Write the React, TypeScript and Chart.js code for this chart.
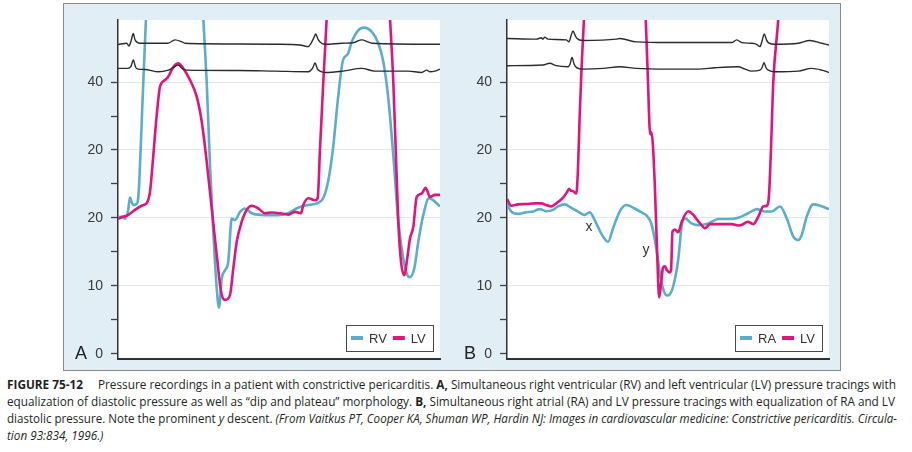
import React, { useEffect, useLayoutEffect, useRef } from 'react';
import { Chart, registerables } from 'chart.js';

Chart.register(...registerables);

// ---------- axis ----------
const yTickValues = [0, 5, 10, 15, 20, 25, 30, 35, 40];
const yLabelValues = [0, 10, 20, 30, 40];
const yLabelTexts = ['0', '10', '20', '20', '40'];
const yMin = -0.74;
const yMax = 49.12;
const timeMax = 322;

// ---------- panel A: RV / LV (time, mmHg) ----------
const rvA: [number, number][] = [[0,20.1],[4,20.2],[7,19.9],[10,21.0],[12,23.0],[14,22.2],[15.5,21.9],[18,22.0],[19.7,22.4],[21,24.5],[22,27.8],[25.3,40],[28,49.4],[31,60],[55,70],[82,60],[85.3,49.4],[88.7,40],[92,27.8],[95.3,18],[98.7,9.7],[101,6.8],[103.7,11.1],[107,12.3],[110.3,13.6],[113.7,19.9],[117,19.7],[122,20.9],[127,21.4],[133.7,20.7],[143.7,20.45],[160,20.4],[170,20.7],[180,21.5],[190,21.9],[203.7,22.6],[210,25.3],[215,30.2],[220,37.6],[225,43.2],[229.7,44.1],[233.7,45.9],[240.3,47.6],[246.3,48.0],[253.7,47.4],[260.3,45.7],[265.3,43.0],[270.3,37.6],[275.3,29.2],[280.3,19.45],[285.3,14.0],[288.7,11.8],[292,11.3],[296.3,12.6],[300.3,16.5],[305.3,20.45],[311,22.9],[315.3,22.6],[322,21.7]];
const lvA: [number, number][] = [[0,19.9],[3.7,20.1],[10.3,20.45],[17,21.2],[23.7,21.8],[28.7,22.2],[32,23.85],[35.3,29.2],[38.7,35.1],[42,39.3],[47,40.3],[50.3,40.8],[53.7,41.8],[57,42.5],[60.3,42.75],[65.3,42.0],[72,40.3],[78.7,37.85],[83.7,34.2],[88.7,28.3],[93.7,21.4],[98.7,14.6],[103,9.2],[107,7.95],[112,8.7],[115.3,12.6],[118.7,16.5],[123.7,19.45],[128.7,21.2],[133.7,21.8],[140.3,21.4],[147,20.7],[153.7,20.8],[162,20.7],[170.3,20.5],[177,20.9],[183,20.7],[185.3,21.9],[190.3,22.9],[197,22.6],[199.7,22.95],[202,30.2],[205.3,40],[208.7,49.4],[212,60],[240,75],[268,60],[272,49.4],[275.3,40],[277.7,30.2],[280.3,19.5],[283,13.6],[286.3,11.6],[289.7,14.6],[292,17.0],[295.3,18.7],[298.7,23.1],[303.7,23.6],[307.7,24.45],[312,23.1],[317,23.4],[322,23.4]];
const ecgTopA: [number, number][] = [[0,45.5],[8.7,45.7],[11,45.3],[13,46.0],[15.3,47.15],[17,46.2],[18.7,45.9],[22,45.7],[50,45.7],[57,46.2],[64,45.9],[67,45.7],[120,45.6],[157,45.55],[182,45.45],[190.3,45.2],[193,45.7],[195.5,46.4],[197.7,47.05],[200,46.3],[202,45.9],[207,45.55],[223.7,45.7],[236,45.8],[243.7,46.2],[250,45.9],[253.7,45.7],[322,45.55]];
const ecgBottomA: [number, number][] = [[0,42.0],[9.7,42.0],[13,42.3],[15.3,43.25],[17.5,42.2],[20,41.9],[27,41.85],[40.3,41.5],[50.3,41.75],[55,42.1],[60.3,42.5],[64,42.0],[68.7,41.75],[120,41.7],[157,41.6],[190.3,41.5],[194.5,42.0],[197,42.8],[199.5,41.9],[202,41.6],[207,41.4],[225,41.6],[243.7,42.0],[257,41.6],[290,41.6],[303.7,41.4],[308.7,41.75],[312,41.5],[317,41.6],[322,41.9]];

// ---------- panel B: RA / LV ----------
const raB: [number, number][] = [[0,22.15],[4.3,20.95],[11,20.6],[19.3,20.85],[26,20.95],[32.7,21.3],[39.3,21.0],[46,21.2],[51,21.7],[57.7,22.0],[64.3,21.5],[71,20.95],[77.7,20.45],[82.7,20.85],[87.7,19.7],[94.3,17.7],[101,16.5],[106,18.45],[112.7,20.95],[119.3,21.9],[127.7,21.4],[136,20.7],[140,20.3],[144,19.3],[147,17.5],[150,14.8],[153,11.8],[156,9.6],[160,8.6],[163,8.8],[166.3,10.0],[171.3,14.0],[174.7,18.9],[178,19.95],[184.7,19.2],[191.3,18.95],[201.3,19.2],[211.3,19.85],[221.3,19.85],[231.3,20.05],[241.3,20.7],[249.7,21.3],[258,20.95],[264.7,20.95],[273,21.7],[279.7,19.95],[286.3,17.25],[291.3,16.75],[294.7,17.5],[299.7,20.2],[306.3,22.0],[313,21.8],[322,21.3]];
const lvB: [number, number][] = [[0,22.8],[4.3,21.8],[11,22.0],[19.3,22.05],[27.7,22.15],[34.3,22.15],[39.3,21.9],[44.3,21.7],[49.3,22.15],[56,23.0],[60,23.8],[62,24.3],[64,24.0],[66,23.95],[69.3,23.6],[71,27.3],[72.7,35.1],[74.7,42.5],[77,49.4],[80,60],[108,75],[136,60],[138.7,49.4],[141,40.05],[142.5,33.5],[143.2,32.3],[144.5,32.6],[147.7,25.3],[150,15.5],[152.2,8.3],[154.5,11.0],[156,12.7],[158,12.9],[160,12.3],[162.5,12.0],[164,12.3],[165.5,18.0],[168,18.3],[171.3,17.9],[174.7,19.45],[181.3,21.0],[186.3,20.45],[193,19.2],[198,18.5],[203,19.1],[213,19.1],[224.7,19.1],[231.3,18.9],[235,19.0],[240.7,19.45],[246.3,19.1],[251.3,20.2],[256.3,21.7],[259.7,21.8],[262,23.4],[264,30.2],[266.3,40.05],[271.3,49.4],[275,60],[322,75]];
const ecgTopB: [number, number][] = [[0,46.4],[29.3,46.3],[34.3,46.5],[36,46.3],[37.7,46.6],[41,46.3],[59.3,46.2],[62,45.9],[64,46.8],[66,47.5],[68,46.9],[70,46.4],[76,46.1],[109.3,46.3],[112.7,46.4],[129.3,45.9],[161,45.8],[224.7,45.8],[229.7,46.2],[234.7,45.8],[244.7,45.7],[249.7,45.55],[253,45.2],[255,46.0],[257.3,47.05],[259.5,46.2],[261.3,45.8],[268,45.55],[291.3,45.7],[303,46.1],[314.7,45.7],[322,45.45]];
const ecgBottomB: [number, number][] = [[0,42.4],[36,42.5],[42.7,42.75],[49.3,42.4],[61,42.25],[63,42.6],[65,43.6],[67,42.7],[68.7,42.25],[76,41.9],[96,42.0],[112.7,42.25],[129.3,42.0],[161,41.9],[191.3,41.9],[208,42.1],[231.3,42.25],[238,41.9],[244.7,41.6],[253,41.75],[255,42.1],[257,42.85],[259,42.1],[261.3,41.75],[268,41.5],[291.3,41.6],[304.7,42.0],[314.7,41.75],[322,41.4]];

const notesB = [{ text: 'x', t: 82, v: 18.6 }, { text: 'y', t: 139, v: 15.3 }];

const BLUE = '#5badcc';
const MAGENTA = '#e3137c';
const ECG = '#2b2b2b';
const FONT = '"Liberation Sans", Arial, sans-serif';

const plotBg = {
  id: 'plotBg',
  beforeDraw(chart: any) {
    const { ctx, chartArea: a } = chart;
    ctx.save();
    ctx.fillStyle = '#ffffff';
    ctx.fillRect(a.left, a.top, a.right - a.left, a.bottom - a.top);
    ctx.restore();
  },
};

const boxLegend = {
  id: 'boxLegend',
  afterDraw(chart: any) {
    const { ctx, chartArea: a } = chart;
    const items = chart.data.datasets
      .filter((d: any) => d.legendRank !== undefined)
      .sort((p: any, q: any) => p.legendRank - q.legendRank);
    ctx.save();
    ctx.font = `13px ${FONT}`;
    const padL = 5, sw = 12, gap = 6, itemGap = 6, padR = 7, h = 26;
    let w = padL + padR;
    items.forEach((d: any, i: number) => {
      w += sw + gap + ctx.measureText(d.label).width + (i > 0 ? itemGap : 0);
    });
    const x0 = Math.round(a.right - 7 - w);
    const y0 = Math.round(a.bottom - 8 - h);
    ctx.fillStyle = '#ffffff';
    ctx.fillRect(x0, y0, w, h);
    ctx.strokeStyle = '#4a4a4a';
    ctx.lineWidth = 1;
    ctx.strokeRect(x0 + 0.5, y0 + 0.5, Math.round(w), h);
    let x = x0 + padL;
    const cy = y0 + h / 2;
    items.forEach((d: any, i: number) => {
      if (i > 0) x += itemGap;
      ctx.strokeStyle = d.borderColor;
      ctx.lineWidth = 4;
      ctx.beginPath();
      ctx.moveTo(x, cy);
      ctx.lineTo(x + sw, cy);
      ctx.stroke();
      x += sw + gap;
      ctx.fillStyle = '#333333';
      ctx.textBaseline = 'middle';
      ctx.textAlign = 'left';
      ctx.fillText(d.label, x, cy + 1);
      x += ctx.measureText(d.label).width;
    });
    ctx.restore();
  },
};

const notesPlugin = {
  id: 'notes',
  afterDatasetsDraw(chart: any, _args: any, opts: any) {
    const notes = (opts && opts.items) || [];
    const { ctx, scales } = chart;
    ctx.save();
    ctx.font = `14px ${FONT}`;
    ctx.fillStyle = '#333333';
    ctx.textAlign = 'center';
    ctx.textBaseline = 'middle';
    notes.forEach((n: any) => {
      ctx.fillText(n.text, scales.x.getPixelForValue(n.t), scales.y.getPixelForValue(n.v));
    });
    ctx.restore();
  },
};

const toXY = (arr: [number, number][]) => arr.map(([x, y]) => ({ x, y }));

function lineDs(label: string, arr: [number, number][], color: string, width: number, rank?: number) {
  return {
    label,
    data: toXY(arr),
    borderColor: color,
    backgroundColor: color,
    borderWidth: width,
    pointRadius: 0,
    fill: false,
    cubicInterpolationMode: 'monotone',
    clip: 0,
    legendRank: rank,
  } as any;
}

function PanelChart(props: {
  left: number;
  ventricle: [number, number][];
  ventricleLabel: string;
  lv: [number, number][];
  ecgTop: [number, number][];
  ecgBottom: [number, number][];
  notes: { text: string; t: number; v: number }[];
}) {
  const ref = useRef<HTMLCanvasElement>(null);
  useEffect(() => {
    if (!ref.current) return;
    const chart = new Chart(ref.current, {
      type: 'line',
      data: {
        datasets: [
          lineDs('ECG1', props.ecgTop, ECG, 1.4),
          lineDs('ECG2', props.ecgBottom, ECG, 1.4),
          lineDs('LV', props.lv, MAGENTA, 2.6, 2),
          lineDs(props.ventricleLabel, props.ventricle, BLUE, 2.6, 1),
        ],
      },
      options: {
        animation: false,
        responsive: false,
        devicePixelRatio: 1,
        events: [],
        layout: { padding: { left: 0, right: 5, top: 16, bottom: 7 } },
        scales: {
          x: {
            type: 'linear',
            min: 0,
            max: timeMax,
            ticks: { display: false },
            grid: { display: false, drawTicks: false },
            border: { display: true, color: '#333333', width: 2 },
            afterFit: (s: any) => {
              s.height = 0;
              s.paddingLeft = 0;
              s.paddingRight = 0;
            },
          },
          y: {
            type: 'linear',
            min: yMin,
            max: yMax,
            afterBuildTicks: (s: any) => {
              s.ticks = yTickValues.map((value) => ({ value }));
            },
            afterFit: (s: any) => {
              s.width = 54;
              s.paddingTop = 0;
              s.paddingBottom = 0;
            },
            ticks: {
              autoSkip: false,
              padding: 8,
              color: '#3a3a3a',
              font: { family: FONT, size: 14 },
              callback: (value: any) => {
                const i = yLabelValues.indexOf(Number(value));
                return i >= 0 ? yLabelTexts[i] : '';
              },
            },
            grid: {
              drawTicks: true,
              tickLength: 7,
              tickWidth: 1.3,
              tickColor: '#404040',
              lineWidth: 1,
              color: (c: any) =>
                c.tick && c.tick.value > 0 && c.tick.value % 10 === 0 ? '#e6e6e6' : 'rgba(0,0,0,0)',
            },
            border: { display: true, color: '#333333', width: 1.5 },
          },
        },
        plugins: {
          legend: { display: false },
          tooltip: { enabled: false },
          notes: { items: props.notes },
        } as any,
      },
      plugins: [plotBg, boxLegend, notesPlugin],
    } as any);
    return () => chart.destroy();
  }, []);
  return (
    <canvas
      ref={ref}
      width={381}
      height={362}
      style={{ position: 'absolute', left: props.left, top: 4, width: 381, height: 362 }}
    />
  );
}

// target widths of the three full caption lines; the last line uses their mean scale
const captionTargets = [889, 888, 890];

export default function App() {
  const lineRefs = useRef<(HTMLDivElement | null)[]>([]);
  useLayoutEffect(() => {
    const scales: number[] = [];
    lineRefs.current.forEach((el, i) => {
      if (!el) return;
      el.style.transform = 'none';
      const w = el.getBoundingClientRect().width;
      if (i < captionTargets.length) {
        const k = w > 0 ? captionTargets[i] / w : 1;
        scales.push(k);
        el.style.transform = `scaleX(${k})`;
      } else {
        const k = scales.length ? scales.reduce((p, q) => p + q, 0) / scales.length : 1;
        el.style.transform = `scaleX(${k})`;
      }
    });
  }, []);

  const capStyle = (i: number): React.CSSProperties => ({
    position: 'absolute',
    left: 7,
    top: 376 + i * 17,
    whiteSpace: 'nowrap',
    fontFamily: '"Open Sans", "Noto Sans", sans-serif',
    fontSize: 12,
    lineHeight: '17px',
    color: '#231f20',
    transformOrigin: '0 0',
    display: 'inline-block',
  });

  const letterStyle = (left: number): React.CSSProperties => ({
    position: 'absolute',
    left,
    top: 344,
    fontFamily: FONT,
    fontSize: 18,
    lineHeight: '18px',
    color: '#222',
  });

  return (
    <div style={{ position: 'absolute', left: 0, top: 0, width: 912, height: 452, background: '#fff', overflow: 'hidden' }}>
      <div
        style={{
          position: 'absolute',
          left: 63,
          top: 3,
          width: 778,
          height: 368,
          background: '#e2eef6',
          border: '1.5px solid #8a8a8a',
          boxSizing: 'border-box',
        }}
      />
      <PanelChart left={64} ventricle={rvA} ventricleLabel="RV" lv={lvA} ecgTop={ecgTopA} ecgBottom={ecgBottomA} notes={[]} />
      <PanelChart left={453} ventricle={raB} ventricleLabel="RA" lv={lvB} ecgTop={ecgTopB} ecgBottom={ecgBottomB} notes={notesB} />
      <div style={letterStyle(75)}>A</div>
      <div style={letterStyle(464)}>B</div>

      <div ref={(el) => { lineRefs.current[0] = el; }} style={capStyle(0)}>
        <b>FIGURE 75-12</b>{'\u2002\u2002 '}Pressure recordings in a patient with constrictive pericarditis. <b>A,</b> Simultaneous right ventricular (RV) and left ventricular (LV) pressure tracings with
      </div>
      <div ref={(el) => { lineRefs.current[1] = el; }} style={capStyle(1)}>
        equalization of diastolic pressure as well as “dip and plateau” morphology. <b>B,</b> Simultaneous right atrial (RA) and LV pressure tracings with equalization of RA and LV
      </div>
      <div ref={(el) => { lineRefs.current[2] = el; }} style={capStyle(2)}>
        diastolic pressure. Note the prominent <i>y</i> descent. <i>(From Vaitkus PT, Cooper KA, Shuman WP, Hardin NJ: Images in cardiovascular medicine: Constrictive pericarditis. Circula-</i>
      </div>
      <div ref={(el) => { lineRefs.current[3] = el; }} style={capStyle(3)}>
        <i>tion 93:834, 1996.)</i>
      </div>
    </div>
  );
}
